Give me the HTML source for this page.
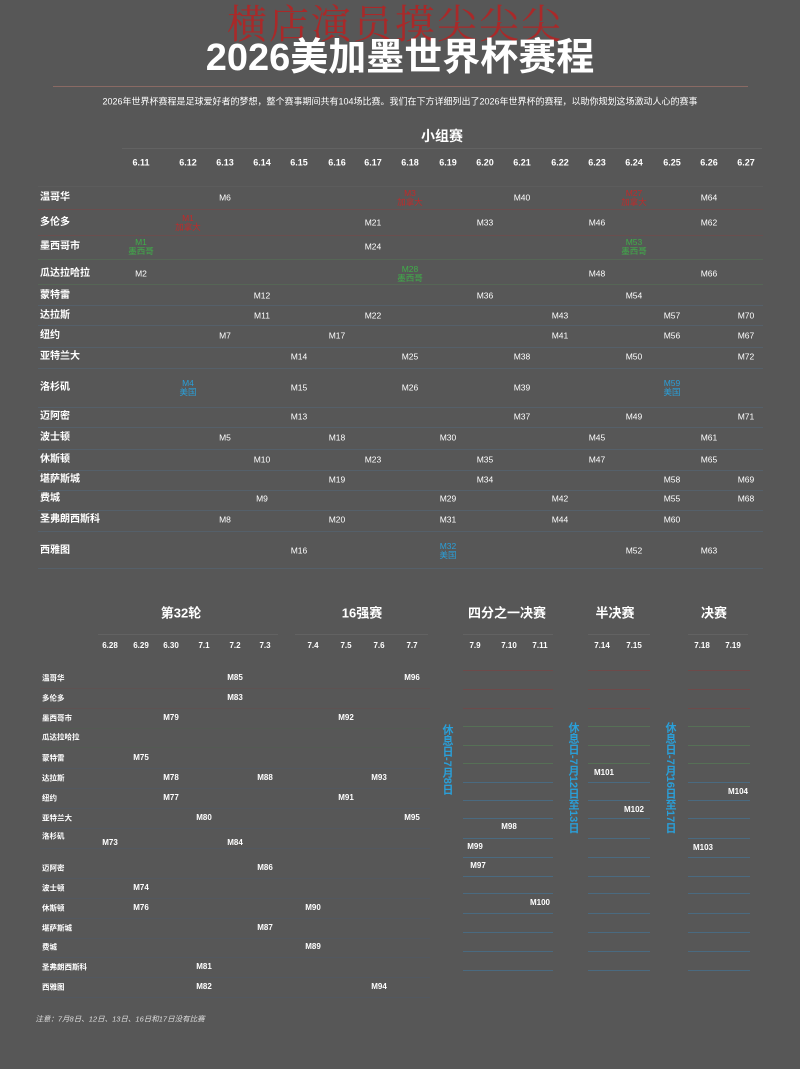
<!DOCTYPE html>
<html><head><meta charset="utf-8"><style>
body{margin:0;background:#575757;}
#c{position:relative;width:800px;height:1069px;overflow:hidden;background:#575757;font-family:"Liberation Sans","Noto Sans CJK SC",sans-serif;color:#fff;}
.t{position:absolute;white-space:nowrap;transform:translate(-50%,-50%);line-height:1;}
.l{position:absolute;height:1px;}
</style></head><body><div id="c">
<div class="t" style="left:395px;top:22px;font-family:'Noto Serif CJK SC',serif;font-size:40px;color:rgba(190,30,30,0.8);letter-spacing:2px;">横店演员摸尖尖尖</div>
<div class="t" style="left:400px;top:58px;font-size:38px;font-weight:bold;">2026美加墨世界杯赛程</div>
<div class="l" style="left:53px;top:86px;width:695px;background:#8a6a64;"></div>
<div class="t" style="left:400px;top:102px;font-size:9px;">2026年世界杯赛程是足球爱好者的梦想，整个赛事期间共有104场比赛。我们在下方详细列出了2026年世界杯的赛程，以助你规划这场激动人心的赛事</div>
<div class="t" style="left:442px;top:136px;font-size:14px;font-weight:bold;">小组赛</div>
<div class="l" style="left:122px;top:148px;width:640px;background:#626262;"></div>
</div>
<script>
var c=document.getElementById('c');
function T(x,y,s,fs,col,fw){var d=document.createElement('div');d.className='t';d.style.left=x+'px';d.style.top=y+'px';d.style.fontSize=(fs||9)+'px';if(col)d.style.color=col;if(fw)d.style.fontWeight=fw;d.innerHTML=s;c.appendChild(d);}
function L(x,y,w,col){var d=document.createElement('div');d.className='l';d.style.left=x+'px';d.style.top=y+'px';d.style.width=w+'px';d.style.background=col;c.appendChild(d);}
var R='#c02a2a',G='#3fae49',B='#2a9fd8';
var dates=['6.11','6.12','6.13','6.14','6.15','6.16','6.17','6.18','6.19','6.20','6.21','6.22','6.23','6.24','6.25','6.26','6.27'];
var dx=[141,188,225,262,299,337,373,410,448,485,522,560,597,634,672,709,746];
dates.forEach(function(d,i){T(dx[i],163,d,9,'#fff','bold');});
var cities=['温哥华','多伦多','墨西哥市','瓜达拉哈拉','蒙特雷','达拉斯','纽约','亚特兰大','洛杉矶','迈阿密','波士顿','休斯顿','堪萨斯城','费城','圣弗朗西斯科','西雅图'];
var ry=[198,223,247,274,296,316,336,357,388,417,438,460,480,499,520,551];
cities.forEach(function(n,i){var d=document.createElement('div');d.className='t';d.style.left='40px';d.style.top=ry[i]+'px';d.style.transform='translate(0,-50%)';d.style.fontSize='10px';d.style.fontWeight='bold';d.innerHTML=n;c.appendChild(d);});
var ly=[209,235,259,284,305,325,347,368,407,427,449,470,490,510,531,568];
var lc=['#6a4e4e','#6a4e4e','#566656','#566656','#55606a','#55606a','#55606a','#55606a','#55606a','#55606a','#55606a','#55606a','#55606a','#55606a','#55606a','#55606a'];
ly.forEach(function(y,i){L(38,y,725,lc[i]);});
L(38,186,725,'#5c5c5c');
var m=[
[0,2,'M6'],[0,7,'M3<br>加拿大',R],[0,10,'M40'],[0,13,'M27<br>加拿大',R],[0,15,'M64'],
[1,1,'M1<br>加拿大',R],[1,6,'M21'],[1,9,'M33'],[1,12,'M46'],[1,15,'M62'],
[2,0,'M1<br>墨西哥',G],[2,6,'M24'],[2,13,'M53<br>墨西哥',G],
[3,0,'M2'],[3,7,'M28<br>墨西哥',G],[3,12,'M48'],[3,15,'M66'],
[4,3,'M12'],[4,9,'M36'],[4,13,'M54'],
[5,3,'M11'],[5,6,'M22'],[5,11,'M43'],[5,14,'M57'],[5,16,'M70'],
[6,2,'M7'],[6,5,'M17'],[6,11,'M41'],[6,14,'M56'],[6,16,'M67'],
[7,4,'M14'],[7,7,'M25'],[7,10,'M38'],[7,13,'M50'],[7,16,'M72'],
[8,1,'M4<br>美国',B],[8,4,'M15'],[8,7,'M26'],[8,10,'M39'],[8,14,'M59<br>美国',B],
[9,4,'M13'],[9,10,'M37'],[9,13,'M49'],[9,16,'M71'],
[10,2,'M5'],[10,5,'M18'],[10,8,'M30'],[10,12,'M45'],[10,15,'M61'],
[11,3,'M10'],[11,6,'M23'],[11,9,'M35'],[11,12,'M47'],[11,15,'M65'],
[12,5,'M19'],[12,9,'M34'],[12,14,'M58'],[12,16,'M69'],
[13,3,'M9'],[13,8,'M29'],[13,11,'M42'],[13,14,'M55'],[13,16,'M68'],
[14,2,'M8'],[14,5,'M20'],[14,8,'M31'],[14,11,'M44'],[14,14,'M60'],
[15,4,'M16'],[15,8,'M32<br>美国',B],[15,13,'M52'],[15,15,'M63']];
m.forEach(function(a){var s=document.createElement('div');s.className='t';s.style.left=dx[a[1]]+'px';s.style.top=ry[a[0]]+'px';s.style.fontSize='8.5px';s.style.textAlign='center';s.style.lineHeight='9px';if(a[3])s.style.color=a[3];s.innerHTML=a[2];c.appendChild(s);});
T(181,613,'第32轮',13,'#fff','bold');T(362,613,'16强赛',13,'#fff','bold');
L(98,634,180,'#626262');L(295,634,133,'#626262');
var d2=['6.28','6.29','6.30','7.1','7.2','7.3','7.4','7.5','7.6','7.7'];
var x2=[110,141,171,204,235,265,313,346,379,412];
d2.forEach(function(d,i){T(x2[i],646,d,8,'#fff','bold');});
var ry2=[678,698,718,737,758,778,798,818,838,868,888,908,928,947,967,987];
cities.forEach(function(n,i){var d=document.createElement('div');d.className='t';d.style.left='42px';d.style.top=(i==8?ry2[i]-2:ry2[i])+'px';d.style.transform='translate(0,-50%)';d.style.fontSize='7.5px';d.style.fontWeight='bold';d.innerHTML=n;c.appendChild(d);});
for(var i=0;i<16;i++){L(40,ry2[i]+10,390,i<2?'#5e5252':(i<4?'#535b53':'#525860'));}
var m2=[[0,4,'M85'],[0,9,'M96'],[1,4,'M83'],[2,2,'M79'],[2,7,'M92'],[4,1,'M75'],[5,2,'M78'],[5,5,'M88'],[5,8,'M93'],[6,2,'M77'],[6,7,'M91'],[7,3,'M80'],[7,9,'M95'],[8,0,'M73',843],[8,4,'M84',843],[9,5,'M86'],[10,1,'M74'],[11,1,'M76'],[11,6,'M90'],[12,5,'M87'],[13,6,'M89'],[14,3,'M81'],[15,3,'M82'],[15,8,'M94']];
m2.forEach(function(a){T(x2[a[1]],a[3]||ry2[a[0]],a[2],8,'#fff','bold');});
T(120,1019,'<i>注意：7月8日、12日、13日、16日和17日没有比赛</i>',7.5,'#ddd');
T(507,613,'四分之一决赛',13,'#fff','bold');T(615,613,'半决赛',13,'#fff','bold');T(714,613,'决赛',13,'#fff','bold');
L(463,634,90,'#626262');L(588,634,62,'#626262');L(688,634,60,'#626262');
[[475,'7.9'],[509,'7.10'],[540,'7.11'],[602,'7.14'],[634,'7.15'],[702,'7.18'],[733,'7.19']].forEach(function(a){T(a[0],646,a[1],8,'#fff','bold');});
var ly3=[670,689,708,726,745,763,782,800,818,838,857,876,893,913,932,951,970];
ly3.forEach(function(y,i){var col=i<3?'#6e4a4a':(i<6?'#567056':'#4a6a80');L(463,y,90,col);L(588,y,62,col);L(688,y,62,col);});
[[475,847,'M99'],[509,827,'M98'],[478,866,'M97'],[540,903,'M100'],[604,773,'M101'],[634,810,'M102'],[738,792,'M104'],[703,848,'M103']].forEach(function(a){T(a[0],a[1],a[2],8,'#fff','bold');});
function V(x,y,s){var d=document.createElement('div');d.style.position='absolute';d.style.left=(x-6)+'px';d.style.top=y+'px';d.style.writingMode='vertical-rl';d.style.fontSize='11px';d.style.fontWeight='bold';d.style.color=B;d.style.lineHeight='12px';d.style.fontFamily='"Liberation Sans","Noto Sans CJK SC",sans-serif';d.innerHTML=s;c.appendChild(d);}
V(447,724,'休息日-7月8日');V(573,722,'休息日-7月12日至13日');V(670,722,'休息日-7月16日至17日');
</script>
</body></html>
